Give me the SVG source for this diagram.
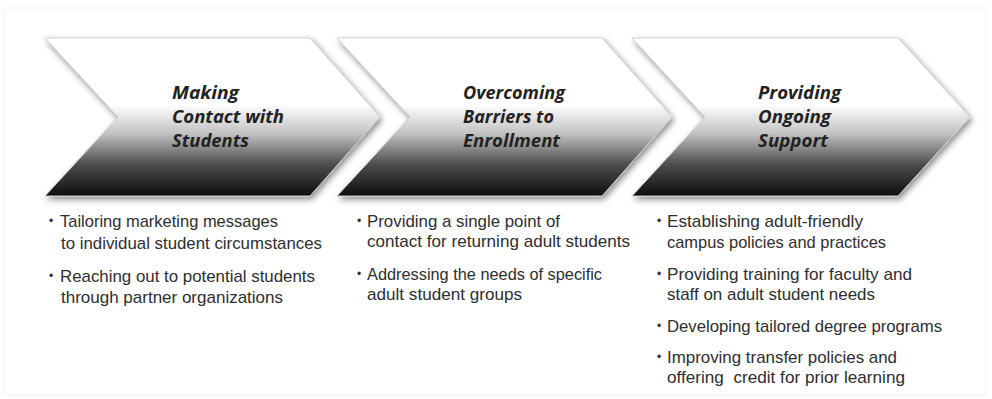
<svg xmlns="http://www.w3.org/2000/svg" width="992" height="399" viewBox="0 0 992 399">
<defs>
<linearGradient id="g" x1="0" y1="0" x2="0" y2="1">
<stop offset="0" stop-color="#ffffff"/>
<stop offset="0.42" stop-color="#ffffff"/>
<stop offset="0.6" stop-color="#c4c4c4"/>
<stop offset="0.8" stop-color="#4d4d4d"/>
<stop offset="1" stop-color="#0e0e0e"/>
</linearGradient>
<filter id="sh" x="-10%" y="-10%" width="125%" height="130%">
<feDropShadow dx="2" dy="3" stdDeviation="3" flood-color="#000" flood-opacity="0.45"/>
</filter>
</defs>
<style>
.chev{fill:url(#g);stroke:#cfcfcf;stroke-width:1;filter:url(#sh)}
.title{font-family:"Open Sans","DejaVu Sans",sans-serif;font-weight:bold;font-style:italic;font-size:17px;fill:#222}
.item{font-family:"Liberation Sans","Arial",sans-serif;font-size:17px;fill:#2e2e2e}
.dot{font-family:"Liberation Sans",sans-serif;font-size:12px;fill:#2e2e2e}
</style>
<rect x="0" y="0" width="992" height="399" fill="#ffffff"/>
<rect x="4" y="8" width="982" height="387" fill="none" stroke="#f2f2f2" stroke-width="1"/>
<g id="connectors"/>
<g id="node1">
<polygon class="chev" points="45,38 310,38 380,117 310,196 45,196 118,117"/>
<text class="title" x="172" y="99" textLength="67" lengthAdjust="spacingAndGlyphs">Making</text>
<text class="title" x="172" y="123" textLength="112" lengthAdjust="spacingAndGlyphs">Contact with</text>
<text class="title" x="172" y="147" textLength="77" lengthAdjust="spacingAndGlyphs">Students</text>
</g>
<g id="node2">
<polygon class="chev" points="337,38 602,38 672,117 602,196 337,196 410,117"/>
<text class="title" x="463" y="99" textLength="102" lengthAdjust="spacingAndGlyphs">Overcoming</text>
<text class="title" x="463" y="123" textLength="91" lengthAdjust="spacingAndGlyphs">Barriers to</text>
<text class="title" x="463" y="147" textLength="97" lengthAdjust="spacingAndGlyphs">Enrollment</text>
</g>
<g id="node3">
<polygon class="chev" points="632,38 898,38 970,117 898,196 632,196 705,117"/>
<text class="title" x="758" y="99" textLength="83" lengthAdjust="spacingAndGlyphs">Providing</text>
<text class="title" x="758" y="123" textLength="73" lengthAdjust="spacingAndGlyphs">Ongoing</text>
<text class="title" x="758" y="147" textLength="70" lengthAdjust="spacingAndGlyphs">Support</text>
</g>
<g id="list1">
<text class="dot" x="49" y="225">•</text>
<text class="item" x="60" y="227" textLength="218" lengthAdjust="spacingAndGlyphs">Tailoring marketing messages</text>
<text class="item" x="61" y="249" textLength="261" lengthAdjust="spacingAndGlyphs">to individual student circumstances</text>
<text class="dot" x="49" y="280">•</text>
<text class="item" x="60" y="282" textLength="255" lengthAdjust="spacingAndGlyphs">Reaching out to potential students</text>
<text class="item" x="61" y="303" textLength="222" lengthAdjust="spacingAndGlyphs">through partner organizations</text>
</g>
<g id="list2">
<text class="dot" x="357" y="225">•</text>
<text class="item" x="367" y="227" textLength="193" lengthAdjust="spacingAndGlyphs">Providing a single point of</text>
<text class="item" x="367" y="247" textLength="263" lengthAdjust="spacingAndGlyphs">contact for returning adult students</text>
<text class="dot" x="357" y="278">•</text>
<text class="item" x="367" y="280" textLength="235" lengthAdjust="spacingAndGlyphs">Addressing the needs of specific</text>
<text class="item" x="367" y="300" textLength="155" lengthAdjust="spacingAndGlyphs">adult student groups</text>
</g>
<g id="list3">
<text class="dot" x="657" y="225">•</text>
<text class="item" x="667" y="227" textLength="196" lengthAdjust="spacingAndGlyphs">Establishing adult-friendly</text>
<text class="item" x="667" y="248" textLength="219" lengthAdjust="spacingAndGlyphs">campus policies and practices</text>
<text class="dot" x="657" y="278">•</text>
<text class="item" x="667" y="280" textLength="245" lengthAdjust="spacingAndGlyphs">Providing training for faculty and</text>
<text class="item" x="667" y="300" textLength="208" lengthAdjust="spacingAndGlyphs">staff on adult student needs</text>
<text class="dot" x="657" y="330">•</text>
<text class="item" x="667" y="332" textLength="275" lengthAdjust="spacingAndGlyphs">Developing tailored degree programs</text>
<text class="dot" x="657" y="361">•</text>
<text class="item" x="667" y="363" textLength="230" lengthAdjust="spacingAndGlyphs">Improving transfer policies and</text>
<text class="item" x="667" y="383" textLength="238" lengthAdjust="spacingAndGlyphs" xml:space="preserve">offering  credit for prior learning</text>
</g>
</svg>
